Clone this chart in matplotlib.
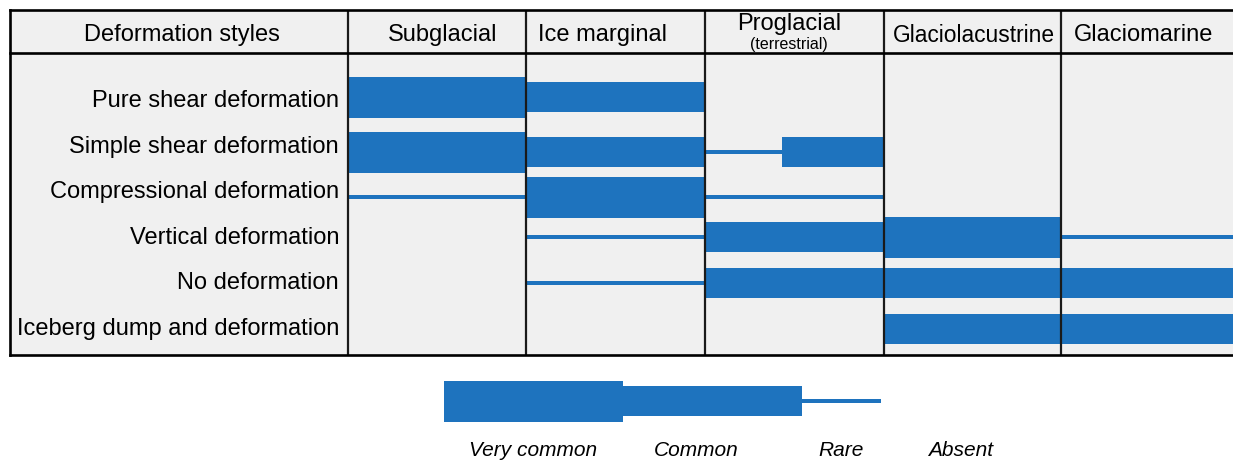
import numpy as np
import matplotlib.pyplot as plt
from matplotlib.patches import Rectangle

plt.rcParams['font.family'] = ['Liberation Sans', 'DejaVu Sans']

# DATA
environments = ['Subglacial', 'Ice marginal', 'Proglacial', 'Glaciolacustrine', 'Glaciomarine']
env_sublabels = ['', '', '(terrestrial)', '', '']
styles = ['Pure shear deformation', 'Simple shear deformation', 'Compressional deformation',
          'Vertical deformation', 'No deformation', 'Iceberg dump and deformation']
# 3 = very common, 2 = common, 1 = rare, 0 = absent
occurrence = [
    [3, 2, 0, 0, 0],
    [3, 2, -1, 0, 0],   # -1: cell split, see below
    [1, 3, 1, 0, 0],
    [0, 1, 2, 3, 1],
    [0, 1, 2, 2, 2],
    [0, 0, 0, 2, 2],
]
# simple shear, proglacial: rare grading into common
split_cells = {(1, 2): [(1, 0.43), (2, 0.57)]}
level_names = ['Absent', 'Rare', 'Common', 'Very common']

# LAYOUT (pixel units)
W, H = 1233, 462
BLUE = '#1e73be'
thick = {3: 41, 2: 30, 1: 4}
left, top, head_bot, bottom = 10, 10, 53, 355
col_edges = [348, 526, 705, 884, 1061, W]
head_x = [443, 603, 789, 974, 1144]
head_fs = [17, 17, 17, 16.4, 17]
label_y = np.linspace(101, 329, len(styles))
bar_y = [97, 152, 197, 237, 283, 329]

fig = plt.figure(figsize=(W/100, H/100), dpi=100)
ax = fig.add_axes([0, 0, 1, 1])
ax.set_xlim(0, W)
ax.set_ylim(H, 0)
ax.axis('off')

ax.add_patch(Rectangle((left, top), W-left, bottom-top, facecolor='#f0f0f0', edgecolor='none', zorder=0))

def draw_cell(x0, x1, yc, lev):
    if lev <= 0:
        return
    ax.barh(yc, x1-x0, left=x0, height=thick[lev], color=BLUE, zorder=2)

for i, row in enumerate(occurrence):
    for j, lev in enumerate(row):
        x0, x1 = col_edges[j], col_edges[j+1]
        if (i, j) in split_cells:
            xs = x0
            for sub, frac in split_cells[(i, j)]:
                xe = xs + frac*(x1-x0)
                draw_cell(xs, xe, bar_y[i], sub)
                xs = xe
        else:
            draw_cell(x0, x1, bar_y[i], lev)
    ax.text(339, label_y[i], styles[i], ha='right', va='center', fontsize=17)

# grid lines
for x in col_edges[:-1]:
    ax.plot([x, x], [top, bottom], color='#1a1a1a', lw=1.6, zorder=3, solid_capstyle='butt')
ax.plot([left, left], [top, bottom], color='black', lw=1.9, zorder=3, solid_capstyle='projecting')
for y in (top, head_bot, bottom):
    ax.plot([left, W], [y, y], color='black', lw=1.9, zorder=3, solid_capstyle='projecting')

# header
ax.text((left+col_edges[0])/2 + 3, 35, 'Deformation styles', ha='center', va='center', fontsize=17)
for j, name in enumerate(environments):
    if env_sublabels[j]:
        ax.text(head_x[j], 24, name, ha='center', va='center', fontsize=head_fs[j])
        ax.text(head_x[j], 45, env_sublabels[j], ha='center', va='center', fontsize=11.5)
    else:
        ax.text(head_x[j], 35, name, ha='center', va='center', fontsize=head_fs[j])

# key
key_edges = [444, 623, 802, 881]
for k, lev in enumerate([3, 2, 1]):
    ax.barh(401, key_edges[k+1]-key_edges[k], left=key_edges[k], height=thick[lev], color=BLUE)
key_x = [533, 696, 841, 961]
for lev, x in zip([3, 2, 1, 0], key_x):
    ax.text(x, 450, level_names[lev], ha='center', va='center', fontsize=15, style='italic')

fig.savefig('out.png', dpi=100, facecolor='white')
